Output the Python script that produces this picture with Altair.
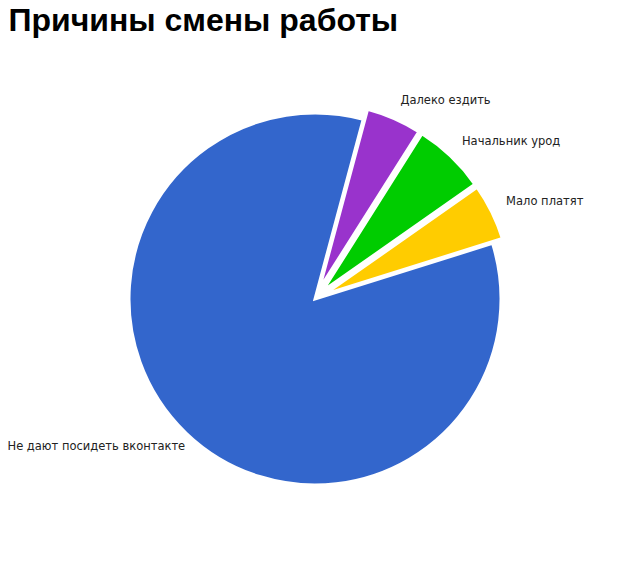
import altair as alt
import pandas as pd

# ---- data ----
labels = ["Далеко ездить", "Начальник урод", "Мало платят", "Не дают посидеть вконтакте"]
values = [4.8, 6.3, 4.9, 84.0]
colors = ["#9933CC", "#00CC00", "#FFCC00", "#3366CC"]
exploded = [1, 1, 1, 0]

df = pd.DataFrame({
    "idx": list(range(len(labels))),
    "label": labels,
    "value": values,
    "exploded": exploded,
})

# ---- layout / style constants ----
W, H = 624, 509
CX, CY = 307, 251          # pie centre in view pixels
R = 186                    # pie radius
OFF = 11                   # explode distance
LABEL_R = 202              # label radius
START = 0.262              # start angle (radians, clockwise from 12 o'clock)

base = alt.Chart(df).transform_window(
    cum="sum(value)", sort=[alt.SortField("idx")], frame=[None, 0]
).transform_joinaggregate(
    total="sum(value)"
).transform_calculate(
    a1=f"{START} + 2*PI*datum.cum/datum.total",
).transform_calculate(
    a0=f"datum.a1 - 2*PI*datum.value/datum.total",
).transform_calculate(
    mid="(datum.a0 + datum.a1)/2",
    off=f"datum.exploded * {OFF}",
).transform_calculate(
    cx=f"{CX} + datum.off*sin(datum.mid)",
    cy=f"{CY} - datum.off*cos(datum.mid)",
    lx=f"{CX} + (datum.off + {LABEL_R})*sin(datum.mid)",
    ly=f"{CY} - (datum.off + {LABEL_R})*cos(datum.mid)",
    side="sin(datum.mid) >= 0 ? 'right' : 'left'",
)

color = alt.Color("label:N", scale=alt.Scale(domain=labels, range=colors), legend=None)

arcs = base.mark_arc(outerRadius=R, stroke="white", strokeWidth=3).encode(
    x=alt.X("cx:Q", scale=None),
    y=alt.Y("cy:Q", scale=None),
    theta=alt.Theta("a0:Q", scale=None, stack=False),
    theta2="a1:Q",
    color=color,
)

text_style = dict(font="DejaVu Sans", fontSize=11.5, color="#222222", baseline="middle")

labels_right = base.transform_filter("datum.side == 'right'").mark_text(
    align="left", dy=-3, **text_style
).encode(
    x=alt.X("lx:Q", scale=None),
    y=alt.Y("ly:Q", scale=None),
    text="label:N",
)

labels_left = base.transform_filter("datum.side == 'left'").mark_text(
    align="right", dx=10, dy=2, **text_style
).encode(
    x=alt.X("lx:Q", scale=None),
    y=alt.Y("ly:Q", scale=None),
    text="label:N",
)

chart = alt.layer(arcs, labels_right, labels_left).properties(
    width=W,
    height=H,
    autosize=alt.AutoSizeParams(type="none"),
    padding={"left": 0, "top": 40, "right": 0, "bottom": 0},
    title=alt.TitleParams(
        "Причины смены работы",
        anchor="start",
        font="Liberation Sans",
        fontSize=32,
        fontWeight="bold",
        color="#000000",
        baseline="alphabetic",
        offset=-15,
        dx=1,
    ),
).configure_view(stroke=None)

chart.save("out.html", embed_options={"renderer": "svg", "actions": False})
